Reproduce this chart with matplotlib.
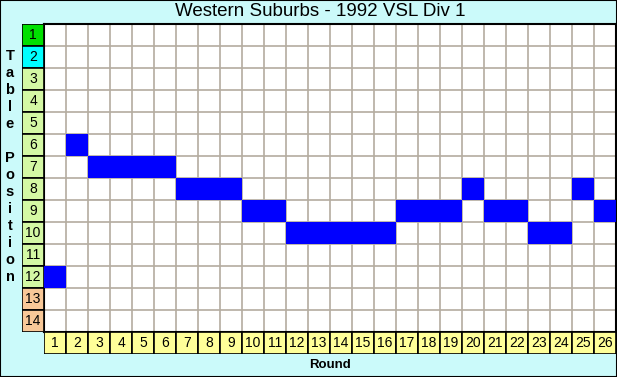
import matplotlib
matplotlib.use('agg')
import matplotlib.pyplot as plt
from matplotlib.patches import Rectangle
import numpy as np

TITLE     = 'Western Suburbs - 1992 VSL Div 1'
ROUNDS    = list(range(1, 27))
POSITIONS = [12, 6, 7, 7, 7, 7, 8, 8, 8, 9, 9, 10, 10, 10, 10, 10,
             9, 9, 9, 8, 9, 9, 10, 10, 8, 9]
N_TEAMS   = 14
ROW_COLORS = ['#00e000', '#00ffff'] + ['#d4f8a4'] * 10 + ['#f8c898'] * 2

W, H = 617, 377
BG = '#cbfafa'
GRID = '#b4aca0'
FONT = 'Liberation Sans'


def frac(x0, y0, x1, y1):
    # pixel box -> figure fraction [left, bottom, width, height]
    return [x0 / W, 1 - y1 / H, (x1 - x0) / W, (y1 - y0) / H]


fig = plt.figure(figsize=(W / 100, H / 100), dpi=100, facecolor=BG)
fig.patches.append(Rectangle((0, 0), 1, 1, transform=fig.transFigure,
                             fill=False, edgecolor='black', linewidth=1.5))

# main grid
ax = fig.add_axes(frac(44, 24, 616, 332))
ax.set_facecolor('white')
ax.bar(ROUNDS, 1, bottom=np.array(POSITIONS) - 0.5, width=1,
       color='#0000ff', zorder=3)
ax.set_xlim(0.5, len(ROUNDS) + 0.5)
ax.set_ylim(N_TEAMS + 0.5, 0.5)
ax.set_xticks(np.arange(1.5, len(ROUNDS) + 0.5))
ax.set_yticks(np.arange(1.5, N_TEAMS + 0.5))
ax.tick_params(length=0, labelbottom=False, labelleft=False)
ax.grid(True, color=GRID, linewidth=1.2, zorder=1)
for s in ax.spines.values():
    s.set_linewidth(1.5)

# position labels
axr = fig.add_axes(frac(22, 24, 44, 332))
pos = np.arange(1, N_TEAMS + 1)
axr.barh(pos, 1, height=1, color=ROW_COLORS, edgecolor='black', linewidth=1.2)
axr.set_xlim(0, 1)
axr.set_ylim(N_TEAMS + 0.5, 0.5)
axr.axis('off')
for p in pos:
    axr.text(0.5, p, str(p), ha='center', va='center', fontsize=10,
             family=FONT)

# round labels
axb = fig.add_axes(frac(44, 332, 616, 354))
axb.bar(ROUNDS, 1, width=1, color='#ffff99', edgecolor='black', linewidth=1.2)
axb.set_xlim(0.5, len(ROUNDS) + 0.5)
axb.set_ylim(0, 1)
axb.axis('off')
for r in ROUNDS:
    axb.text(r, 0.5, str(r), ha='center', va='center', fontsize=10,
             family=FONT)

fig.text(320 / W, 1 - 12 / H, TITLE, ha='center', va='center',
         fontsize=13.5, family=FONT)
fig.text(330 / W, 1 - 365 / H, 'Round', ha='center', va='center',
         fontsize=9.5, fontweight='bold', family=FONT)

# vertical stacked axis label
for i, ch in enumerate('Table Position'):
    fig.text(10 / W, 1 - (56 + 17 * i) / H, ch, ha='center', va='center',
             fontsize=10.5, fontweight='bold', family=FONT)

plt.savefig('out.png', dpi=100, facecolor=BG)
